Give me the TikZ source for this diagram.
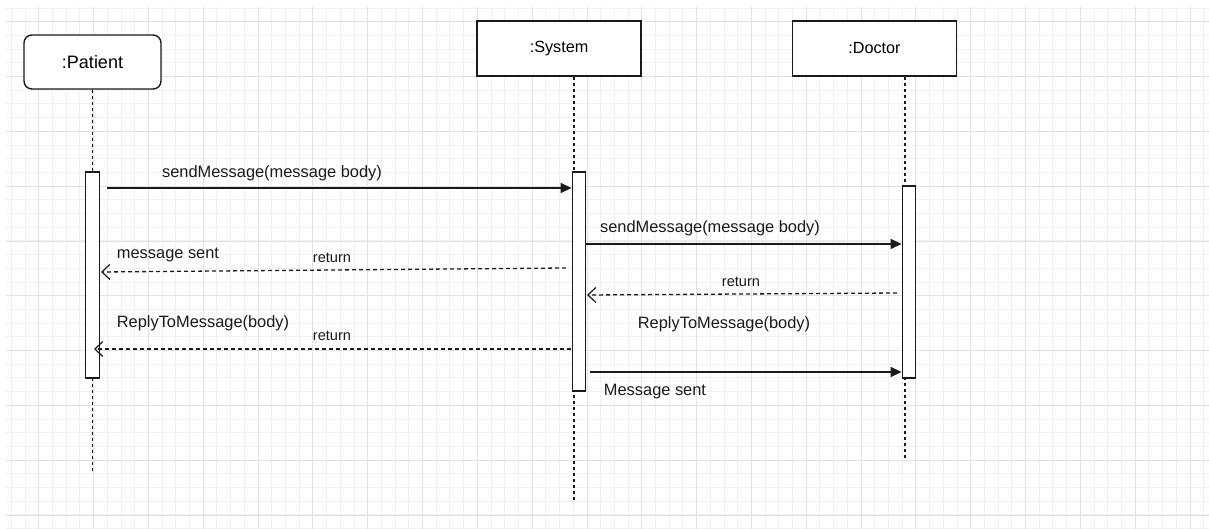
\documentclass[tikz,border=0pt]{standalone}
\usepackage{fontspec}
\setmainfont{Liberation Sans}
\usetikzlibrary{arrows.meta,calc}

\definecolor{gridminor}{HTML}{F1F1F1}
\definecolor{gridmajor}{HTML}{E2E2E2}
\definecolor{ink}{HTML}{1A1A1A}

\tikzset{
  minorline/.style={draw=gridminor, line width=1pt},
  majorline/.style={draw=gridmajor, line width=1pt},
  headbox/.style={draw=ink, line width=1.4pt, fill=white, minimum width=164pt,
    minimum height=55pt, inner sep=0pt, font=\fontsize{16.2}{18}\selectfont},
  actbox/.style={draw=ink, line width=1.3pt, fill=white, minimum width=13.5pt,
    inner sep=0pt},
  lifeline/.style={draw=ink, line width=1.1pt, dash pattern=on 3pt off 3pt},
  msg/.style={draw=ink, line width=1.3pt, -{Triangle[length=11pt,width=10pt]}},
  ret/.style={draw=ink, line width=1.3pt, dash pattern=on 4pt off 3pt,
    -{Straight Barb[length=8pt,width=15pt,line width=1.2pt]}},
  lbl/.style={inner sep=0pt, text=ink, font=\fontsize{16.4}{18}\selectfont},
  retlbl/.style={inner sep=0pt, text=ink, font=\fontsize{14.6}{16}\selectfont},
}

\begin{document}
\begin{tikzpicture}[x=1pt,y=-1pt]
\useasboundingbox (0,0) rectangle (1209,529);
\fill[white] (0,0) rectangle (1209,529);

% background grid, snapped to whole units so every line is equally crisp
\begin{scope}
  \clip (6,7) rectangle (1209,529);
  \foreach \k in {-2,...,85}
    \draw[minorline] ({round(38.3+13.705*\k)+0.5},7) -- ++(0,522);
  \foreach \k in {-1,...,37}
    \draw[minorline] (6,{round(21.3+13.7*\k)+0.5}) -- ++(1203,0);
  \foreach \k in {0,...,21}
    \draw[majorline] ({round(38.3+54.82*\k)+0.5},7) -- ++(0,522);
  \foreach \k in {0,...,9}
    \draw[majorline] (6,{round(21.3+54.8*\k)+0.5}) -- ++(1203,0);
\end{scope}

% lifeline ends
\coordinate (pEnd) at (92.5,472);
\coordinate (sEnd) at (574,502);
\coordinate (dEnd) at (905,460);

% participant heads
\node[headbox, rounded corners=8pt, minimum width=137pt, minimum height=54pt,
  font=\fontsize{18}{20}\selectfont] (patient) at (92.5,62) {:Patient};
\node[headbox] (system) at (559,48.5) {:System};
\node[headbox] (doctor) at (874.5,48.5) {:Doctor};

\draw[lifeline] (patient.south) -- (pEnd);
\draw[lifeline] (system.south -| sEnd) -- (sEnd);
\draw[lifeline] (doctor.south -| dEnd) -- (dEnd);

% activation bars
\node[actbox, minimum height=206pt] (actP) at (92.5,275) {};
\node[actbox, minimum height=219pt] (actS) at (579,281.5) {};
\node[actbox, minimum height=192pt] (actD) at (909,282) {};

% message rows
\coordinate (y1) at (0,188);
\coordinate (y2) at (0,244);
\coordinate (y3) at (0,372);

% Patient -> System
\draw[msg] ($(actP.east |- y1)+(7,0)$) -- (actS.west |- y1);
\node[lbl] (l1) at (272,173) {sendMessage(message body)};

% System -> Doctor
\draw[msg] (actS.east |- y2) -- (actD.west |- y2);
\node[lbl] (l2) at (710,228) {sendMessage(message body)};

% System returns to Patient
\coordinate (r1a) at (566,268);
\coordinate (r1b) at (101,272);
\draw[ret] (r1a) -- (r1b);
\node[lbl] (l3) at (168,255) {message sent};
\node[retlbl] (l4) at (332,258) {return};

% Doctor returns to System
\coordinate (r2a) at (897,293);
\coordinate (r2b) at (587,295);
\draw[ret] (r2a) -- (r2b);
\node[retlbl] (l5) at (741,282) {return};

% reply label
\node[lbl] (l6) at (724,324) {ReplyToMessage(body)};

% System returns reply to Patient
\coordinate (r3a) at (571,349);
\coordinate (r3b) at (94,349);
\draw[ret] (r3a) -- (r3b);
\node[lbl] (l7) at (203,323) {ReplyToMessage(body)};
\node[retlbl] (l8) at (332,336) {return};

% System -> Doctor notification
\draw[msg] ($(actS.east |- y3)+(4,0)$) -- (actD.west |- y3);
\node[lbl] (l9) at (655,392) {Message sent};
\end{tikzpicture}
\end{document}
